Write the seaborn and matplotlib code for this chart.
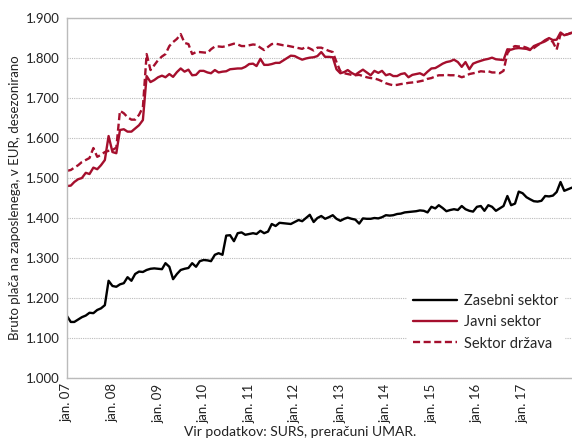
import pandas as pd
import matplotlib.pyplot as plt
from matplotlib.ticker import FuncFormatter
import seaborn as sns

# monthly data, jan 2007 onwards (EUR, seasonally adjusted)
zasebni = [
    1155, 1140, 1140, 1146, 1152, 1156, 1163, 1162, 1170, 1174, 1182, 1243,
    1230, 1228, 1234, 1237, 1252, 1243, 1260, 1266, 1265, 1270, 1273, 1274,
    1273, 1272, 1287, 1278, 1247, 1260, 1270, 1273, 1275, 1287, 1278, 1292,
    1295, 1294, 1292, 1308, 1312, 1308, 1356, 1357, 1342, 1362, 1364, 1358,
    1360, 1362, 1360, 1368, 1362, 1366, 1385, 1380, 1388, 1387, 1386, 1385,
    1390, 1395, 1392, 1400, 1408, 1390, 1400, 1405, 1398, 1402, 1407, 1398,
    1393, 1398, 1401, 1398, 1396, 1386, 1399, 1398, 1398, 1400, 1399, 1402,
    1407, 1406, 1407, 1410, 1411, 1414, 1415, 1416, 1417, 1419, 1418, 1414,
    1428, 1424, 1432, 1425, 1417, 1420, 1422, 1420, 1430, 1422, 1418, 1416,
    1428, 1430, 1418, 1432, 1428, 1418, 1424, 1430, 1455, 1432, 1436, 1466,
    1462, 1452, 1447, 1442, 1441, 1443, 1455, 1454, 1456, 1465, 1490, 1468,
    1472, 1476,
]
javni = [
    1480, 1481, 1490, 1497, 1500, 1513, 1510, 1526, 1522, 1532, 1545, 1605,
    1565, 1562, 1620, 1622, 1616, 1616, 1624, 1632, 1645, 1755, 1740, 1745,
    1752, 1756, 1752, 1760, 1753, 1765, 1774, 1766, 1771, 1757, 1758, 1768,
    1768, 1764, 1762, 1770, 1764, 1766, 1767, 1772, 1773, 1774, 1774, 1778,
    1785, 1786, 1780, 1798, 1783, 1783, 1785, 1788, 1788, 1794, 1800, 1806,
    1805, 1800, 1796, 1799, 1801, 1802, 1805, 1815, 1803, 1803, 1802, 1772,
    1762, 1765, 1770, 1763, 1758, 1765, 1771, 1764, 1757, 1768, 1763, 1768,
    1757, 1760, 1755, 1755, 1760, 1762, 1752, 1758, 1760, 1762, 1757, 1766,
    1774, 1775, 1780, 1786, 1790, 1792, 1796, 1790, 1778, 1790, 1772, 1786,
    1790, 1793, 1796, 1798, 1801, 1797, 1796, 1795, 1822, 1821, 1824, 1825,
    1824, 1823, 1820, 1830, 1834, 1838, 1845, 1850, 1845, 1846, 1864, 1857,
    1860, 1863,
]
drzava = [
    1518, 1520, 1526, 1532, 1540, 1545, 1550, 1575, 1553, 1558, 1565, 1568,
    1570, 1576, 1668, 1662, 1652, 1646, 1646, 1658, 1677, 1810, 1770, 1782,
    1795, 1804, 1810, 1830, 1840, 1848, 1860, 1838, 1835, 1810, 1815, 1815,
    1814, 1813, 1822, 1829, 1829, 1828, 1830, 1833, 1836, 1834, 1830, 1830,
    1832, 1834, 1833, 1826, 1820, 1828, 1835, 1836, 1834, 1832, 1831, 1829,
    1827, 1825, 1823, 1828, 1824, 1819, 1826, 1826, 1822, 1818, 1815, 1790,
    1767, 1762, 1760, 1758, 1757, 1758, 1755, 1752, 1750, 1749, 1746, 1742,
    1737, 1734, 1732, 1733, 1735, 1736, 1738, 1739, 1740, 1742, 1744, 1748,
    1750, 1754, 1757, 1757, 1758, 1757, 1757, 1756, 1752, 1755, 1760, 1762,
    1764, 1767, 1766, 1767, 1764, 1764, 1762, 1768, 1812, 1825, 1830, 1829,
    1829, 1826, 1822, 1825, 1832, 1838, 1842, 1848, 1840, 1821, 1860, 1858,
    1860, 1864,
]
series_names = ["Zasebni sektor", "Javni sektor", "Sektor država"]
tick_years = list(range(2007, 2018))

dates = pd.date_range("2007-01-01", periods=len(zasebni), freq="MS")
df = pd.DataFrame({"datum": dates, series_names[0]: zasebni,
                   series_names[1]: javni, series_names[2]: drzava})
long = df.melt(id_vars="datum", var_name="serija", value_name="placa")

sns.set_style("white")
plt.rcParams["font.family"] = ["Lato", "DejaVu Sans"]

red = "#a50f2d"
fig = plt.figure(figsize=(5.72, 4.41), dpi=100)
ax = fig.add_axes([0.117, 0.143, 0.883, 0.816])

sns.lineplot(data=long, x="datum", y="placa", hue="serija", style="serija",
             hue_order=series_names, style_order=series_names,
             palette=["black", red, red],
             dashes={series_names[0]: "", series_names[1]: "",
                     series_names[2]: (3, 1.5)},
             linewidth=1.7, ax=ax)

ax.set_ylim(1000, 1900)
ax.set_yticks(range(1000, 1901, 100))
ax.yaxis.set_major_formatter(FuncFormatter(lambda v, p: f"{v/1000:.3f}"))
ax.set_xlim(dates[0], dates[-1])
ticks = [pd.Timestamp(f"{y}-01-01") for y in tick_years]
ax.set_xticks(ticks)
ax.set_xticklabels([f"jan. {y % 100:02d}" for y in tick_years], rotation=90)
ax.tick_params(axis="x", labelsize=9.5, length=0, colors="#222222", pad=4)
ax.tick_params(axis="y", labelsize=9.5, length=0, colors="#222222", pad=5)

ax.grid(axis="y", color="#bbbbbb", linestyle=(0, (1, 1)), linewidth=0.8)
ax.set_axisbelow(True)
for s in ["left", "bottom", "top"]:
    ax.spines[s].set_color("#bbbbbb")
    ax.spines[s].set_linewidth(1.0)
ax.spines["right"].set_visible(False)

ax.set_xlabel("")
ax.set_ylabel("Bruto plača na zaposlenega, v EUR, desezonirano",
              fontsize=9.5, color="#222222", labelpad=4)

leg = ax.legend(loc="lower right", bbox_to_anchor=(0.985, 0.06), fontsize=10.5,
                frameon=True, facecolor="white", edgecolor="white",
                framealpha=1, handlelength=3.0, handletextpad=0.5,
                labelspacing=0.5, borderaxespad=0)
for line in leg.get_lines():
    line.set_linewidth(1.7)

fig.text(0.525, 0.02, "Vir podatkov: SURS, preračuni UMAR.", ha="center",
         va="center", fontsize=10, color="#222222")

fig.savefig("out.png", dpi=100)
